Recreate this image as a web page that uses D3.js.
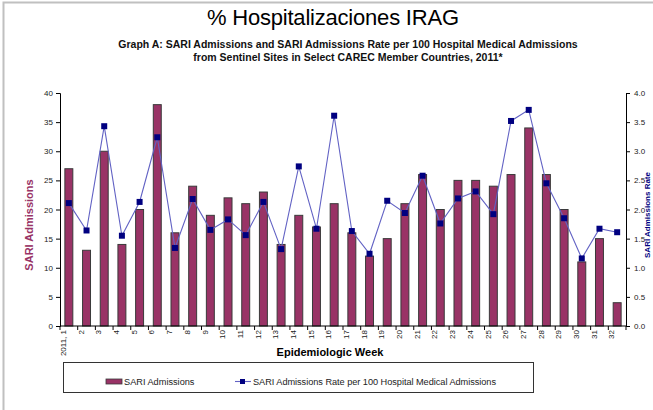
<!DOCTYPE html>
<html>
<head>
<meta charset="utf-8">
<script src="https://cdn.jsdelivr.net/npm/d3@7"></script>
<style>
  body { margin: 0; background: #fff; }
  svg { display: block; font-family: "Liberation Sans", Arial, sans-serif; }
</style>
</head>
<body>
<div id="chart"></div>
<script>
const weeks = ['2011, 1', '2', '3', '4', '5', '6', '7', '8', '9', '10', '11', '12', '13', '14', '15', '16',
  '17', '18', '19', '20', '21', '22', '23', '24', '25', '26', '27', '28', '29', '30', '31', '32'];
const sariAdmissions = [27, 13, 30, 14, 20, 38, 16, 24, 19, 22, 21, 23, 14, 19, 17, 21,
  16, 12, 15, 21, 26, 20, 25, 25, 24, 26, 34, 26, 20, 11, 15, 4];
const sariRate = [2.11, 1.64, 3.43, 1.55, 2.13, 3.24, 1.34, 2.18, 1.65, 1.83, 1.56, 2.13, 1.32, 2.74, 1.67, 3.61,
  1.63, 1.24, 2.15, 1.94, 2.58, 1.76, 2.19, 2.31, 1.92, 3.52, 3.71, 2.45, 1.85, 1.16, 1.67, 1.61];
const leftTicks = [0, 5, 10, 15, 20, 25, 30, 35, 40];
const rightTicks = [0, 0.5, 1, 1.5, 2, 2.5, 3, 3.5, 4];

const width = 653;
const height = 410;
const plot = {left: 60, right: 626, top: 93, bottom: 326};

const svg = d3.select('#chart').append('svg')
  .attr('width', width)
  .attr('height', height);

// frame
svg.append('path')
  .attr('d', `M3.5,${height} V2.5 H${width}`)
  .attr('fill', 'none')
  .attr('stroke', '#c0c0c0')
  .attr('stroke-width', 2);

// titles
svg.append('text')
  .attr('x', 333).attr('y', 25)
  .attr('text-anchor', 'middle')
  .attr('font-size', 22)
  .attr('textLength', 252)
  .attr('fill', '#000')
  .text('% Hospitalizaciones IRAG');

svg.append('text')
  .attr('x', 348).attr('y', 48)
  .attr('text-anchor', 'middle')
  .attr('font-size', 10.5)
  .attr('font-weight', 'bold')
  .attr('fill', '#111')
  .text('Graph A:  SARI Admissions and SARI Admissions Rate per 100 Hospital Medical Admissions');

svg.append('text')
  .attr('x', 348).attr('y', 61)
  .attr('text-anchor', 'middle')
  .attr('font-size', 10.5)
  .attr('font-weight', 'bold')
  .attr('fill', '#111')
  .text('from Sentinel Sites in Select CAREC Member Countries, 2011*');

// scales
const x = d3.scaleBand().domain(weeks).range([plot.left, plot.right]).paddingInner(0.55).paddingOuter(0.275);
const xBand = d3.scaleBand().domain(weeks).range([plot.left, plot.right]);
const yLeft = d3.scaleLinear().domain([0, 40]).range([plot.bottom, plot.top]);
const yRight = d3.scaleLinear().domain([0, 4]).range([plot.bottom, plot.top]);

// bars
svg.append('g')
  .selectAll('rect')
  .data(sariAdmissions)
  .enter().append('rect')
  .attr('x', (d, i) => x(weeks[i]))
  .attr('y', (d) => yLeft(d))
  .attr('width', x.bandwidth())
  .attr('height', (d) => plot.bottom - yLeft(d))
  .attr('fill', '#993366')
  .attr('stroke', '#3a3a3a')
  .attr('stroke-width', 1);

// rate line
const line = d3.line()
  .x((d, i) => xBand(weeks[i]) + xBand.bandwidth() / 2)
  .y((d) => yRight(d));

svg.append('path')
  .datum(sariRate)
  .attr('d', line)
  .attr('fill', 'none')
  .attr('stroke', '#6262c4')
  .attr('stroke-width', 1.1);

svg.append('g')
  .selectAll('rect')
  .data(sariRate)
  .enter().append('rect')
  .attr('x', (d, i) => xBand(weeks[i]) + xBand.bandwidth() / 2 - 3)
  .attr('y', (d) => yRight(d) - 3)
  .attr('width', 6)
  .attr('height', 6)
  .attr('fill', '#000080');

// left axis
const leftAxis = svg.append('g')
  .attr('transform', `translate(${plot.left},0)`)
  .call(d3.axisLeft(yLeft).tickValues(leftTicks).tickSize(4).tickPadding(3).tickFormat(d3.format('d')));

// right axis
const rightAxis = svg.append('g')
  .attr('transform', `translate(${plot.right},0)`)
  .call(d3.axisRight(yRight).tickValues(rightTicks).tickSize(4).tickPadding(4).tickFormat(d3.format('.1f')));

// x axis
const xAxis = svg.append('g')
  .attr('transform', `translate(0,${plot.bottom})`)
  .call(d3.axisBottom(xBand).tickSize(0).tickPadding(4));

xAxis.selectAll('.tick text')
  .attr('transform', 'rotate(-90)')
  .attr('text-anchor', 'end')
  .attr('dx', '-4')
  .attr('dy', '-0.35em')
  .attr('x', 0)
  .attr('y', 0);

// x tick marks at band boundaries
xAxis.selectAll('line.boundary')
  .data(weeks.concat(['end']))
  .enter().append('line')
  .attr('class', 'boundary')
  .attr('x1', (d, i) => plot.left + i * xBand.step())
  .attr('x2', (d, i) => plot.left + i * xBand.step())
  .attr('y1', 0)
  .attr('y2', 4)
  .attr('stroke', '#000');

[leftAxis, rightAxis, xAxis].forEach((g) => {
  g.select('.domain').attr('stroke', '#000');
  g.selectAll('.tick line').attr('stroke', '#000');
  g.selectAll('.tick text')
    .attr('font-size', 8)
    .attr('font-family', '"Liberation Sans", Arial, sans-serif')
    .attr('fill', '#222');
});
xAxis.select('.domain').attr('d', `M${plot.left},0H${plot.right}`);

// axis titles
svg.append('text')
  .attr('transform', `translate(33,225) rotate(-90)`)
  .attr('text-anchor', 'middle')
  .attr('font-size', 11)
  .attr('font-weight', 'bold')
  .attr('fill', '#993366')
  .text('SARI Admissions');

svg.append('text')
  .attr('transform', `translate(644,215) rotate(-90)`)
  .attr('text-anchor', 'middle')
  .attr('dy', '0.8em')
  .attr('font-size', 8)
  .attr('font-weight', 'bold')
  .attr('fill', '#000080')
  .text('SARI Admissions Rate');

svg.append('text')
  .attr('x', 330).attr('y', 356)
  .attr('text-anchor', 'middle')
  .attr('font-size', 11)
  .attr('font-weight', 'bold')
  .attr('fill', '#000')
  .text('Epidemiologic Week');

// legend
const legend = svg.append('g');
legend.append('rect')
  .attr('x', 63.5).attr('y', 362.5)
  .attr('width', 470).attr('height', 30)
  .attr('fill', '#fff')
  .attr('stroke', '#333');

legend.append('rect')
  .attr('x', 106).attr('y', 379)
  .attr('width', 16).attr('height', 5)
  .attr('fill', '#993366')
  .attr('stroke', '#3a3a3a')
  .attr('stroke-width', 0.8);
legend.append('text')
  .attr('x', 124).attr('y', 385)
  .attr('font-size', 9.2)
  .attr('fill', '#222')
  .text('SARI Admissions');

legend.append('line')
  .attr('x1', 235).attr('x2', 251)
  .attr('y1', 381.5).attr('y2', 381.5)
  .attr('stroke', '#6262c4')
  .attr('stroke-width', 1.1);
legend.append('rect')
  .attr('x', 240).attr('y', 379)
  .attr('width', 5).attr('height', 5)
  .attr('fill', '#000080');
legend.append('text')
  .attr('x', 253).attr('y', 385)
  .attr('font-size', 9.2)
  .attr('textLength', 243)
  .attr('fill', '#222')
  .text('SARI Admissions Rate per 100 Hospital Medical Admissions');
</script>
</body>
</html>
